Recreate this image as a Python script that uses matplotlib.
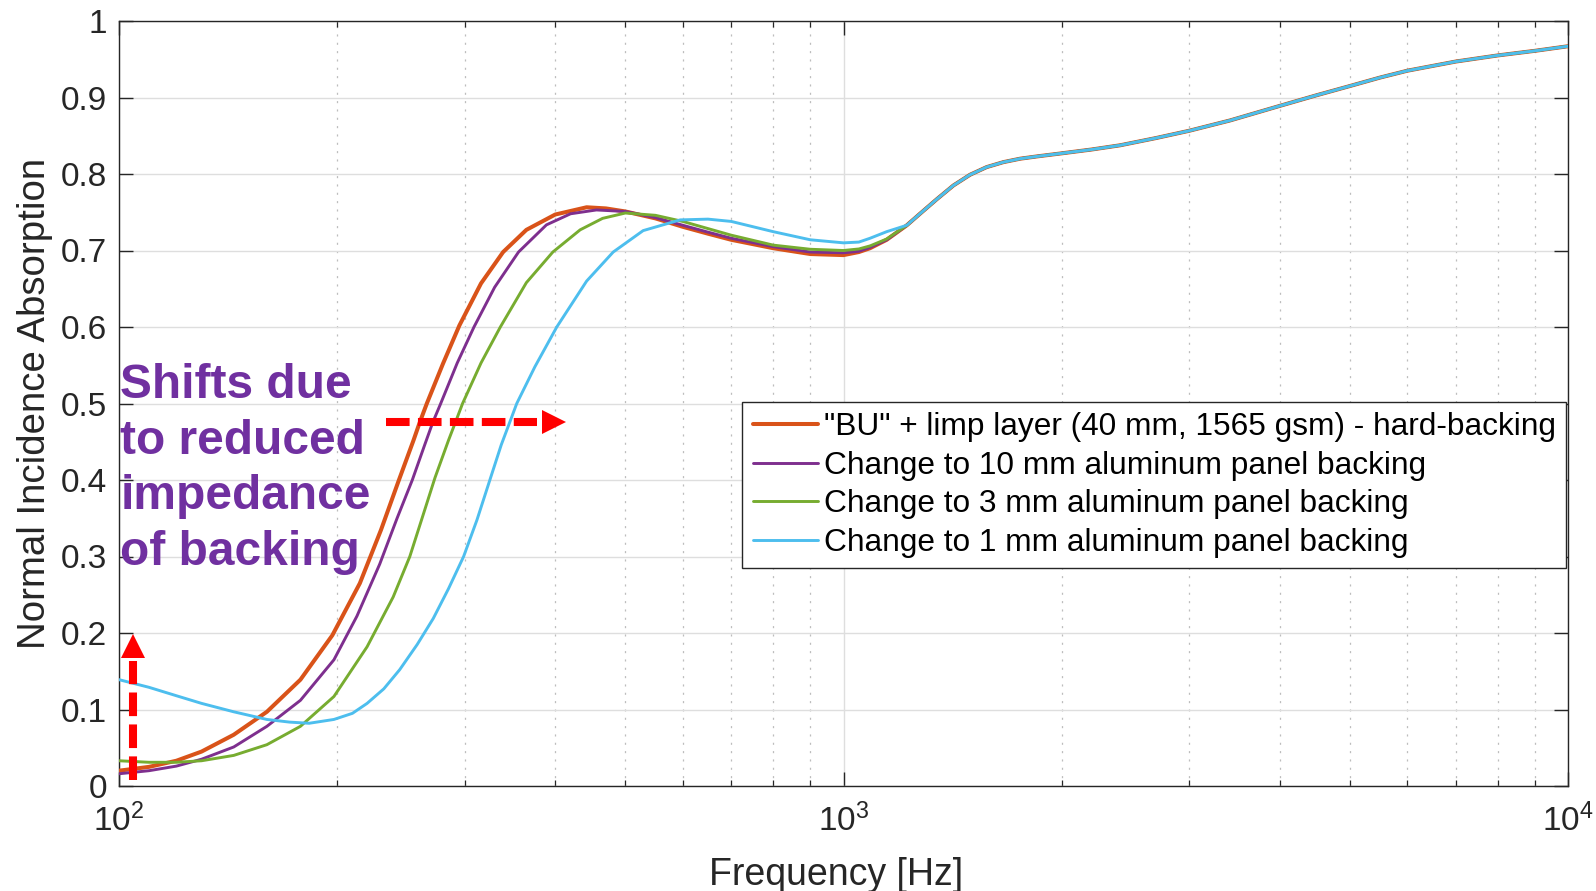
import numpy as np
import matplotlib
matplotlib.use("Agg")
import matplotlib.pyplot as plt
from matplotlib.ticker import FixedLocator, NullFormatter, FixedFormatter

plt.rcParams['font.family'] = ['Liberation Sans', 'DejaVu Sans']
plt.rcParams['mathtext.fontset'] = 'custom'
plt.rcParams['mathtext.rm'] = 'Liberation Sans'
plt.rcParams['mathtext.it'] = 'Liberation Sans:italic'
plt.rcParams['mathtext.bf'] = 'Liberation Sans:bold'
plt.rcParams['lines.scale_dashes'] = False

# ---------------- data ----------------
freq_hard = [100, 110, 120, 130, 144, 160, 178, 197, 215, 230, 243, 255, 260, 266, 280, 295,
             316, 339, 365, 400, 442, 470, 500, 550, 600, 650, 700, 800, 900, 1000, 1050,
             1088, 1147]
abs_hard = [0.020, 0.025, 0.033, 0.045, 0.067, 0.097, 0.139, 0.197, 0.265, 0.335, 0.398,
            0.452, 0.475, 0.500, 0.552, 0.602, 0.657, 0.698, 0.727, 0.747, 0.7565, 0.755,
            0.751, 0.742, 0.731, 0.722, 0.714, 0.703, 0.6954, 0.694, 0.698, 0.703, 0.714]

freq_10mm = [100, 110, 120, 130, 144, 160, 178, 198, 213, 229, 242, 254, 264, 271, 278, 293,
             309, 330, 356, 389, 420, 456, 500, 550, 600, 650, 700, 800, 900, 1000, 1050,
             1088, 1147]
abs_10mm = [0.016, 0.020, 0.026, 0.035, 0.051, 0.078, 0.112, 0.165, 0.222, 0.290, 0.350,
            0.400, 0.445, 0.475, 0.500, 0.553, 0.600, 0.652, 0.698, 0.7335, 0.748, 0.753,
            0.751, 0.743, 0.733, 0.724, 0.716, 0.705, 0.698, 0.697, 0.699, 0.704, 0.714]

freq_3mm = [100, 110, 120, 130, 144, 160, 178, 198, 220, 239, 252, 262, 273, 285, 292, 298,
            316, 336, 365, 397, 433, 465, 500, 550, 600, 700, 800, 900, 1000, 1050, 1088,
            1147]
abs_3mm = [0.033, 0.031, 0.031, 0.033, 0.040, 0.054, 0.078, 0.117, 0.182, 0.247, 0.300,
           0.350, 0.403, 0.452, 0.478, 0.500, 0.553, 0.600, 0.658, 0.698, 0.727, 0.742,
           0.749, 0.746, 0.738, 0.720, 0.707, 0.7016, 0.700, 0.702, 0.706, 0.715]

freq_1mm = [100, 110, 120, 130, 144, 160, 172, 183, 198, 210, 220, 232, 244, 258, 271.5, 285,
            299, 312, 325, 337, 347, 354, 375, 402, 442, 481, 529, 595, 650, 700, 800, 900,
            1000, 1050, 1088, 1147]
abs_1mm = [0.139, 0.129, 0.118, 0.108, 0.097, 0.087, 0.0835, 0.082, 0.087, 0.095, 0.108,
           0.127, 0.152, 0.185, 0.219, 0.258, 0.300, 0.348, 0.400, 0.446, 0.478, 0.500,
           0.548, 0.600, 0.660, 0.698, 0.726, 0.740, 0.741, 0.738, 0.7246, 0.714, 0.710,
           0.711, 0.716, 0.7246]

# common high-frequency part (all four curves coincide)
tail_freq = [1223, 1275, 1345, 1418, 1495, 1576, 1662, 1753, 1850, 2000, 2200, 2408, 2700,
             3000, 3416, 4000, 4500, 5000, 5500, 6000, 7000, 8000, 9000, 10000]
tail_abs = [0.733, 0.748, 0.767, 0.785, 0.799, 0.809, 0.8155, 0.820, 0.823, 0.827, 0.832,
            0.8375, 0.847, 0.8565, 0.870, 0.889, 0.903, 0.915, 0.926, 0.935, 0.947, 0.955,
            0.961, 0.967]

labels = ['"BU" + limp layer (40 mm, 1565 gsm) - hard-backing',
          'Change to 10 mm aluminum panel backing',
          'Change to 3 mm aluminum panel backing',
          'Change to 1 mm aluminum panel backing']
colors = ['#D95319', '#7E2F8E', '#77AC30', '#4DBEEE']
widths = [2.9, 2.1, 2.1, 2.1]

ytick_vals = [0, 0.1, 0.2, 0.3, 0.4, 0.5, 0.6, 0.7, 0.8, 0.9, 1.0]
ytick_labels = ['0', '0.1', '0.2', '0.3', '0.4', '0.5', '0.6', '0.7', '0.8', '0.9', '1']
xtick_vals = [100, 1000, 10000]
xtick_labels = ['$10^{2}$', '$10^{3}$', '$10^{4}$']

annotation_text = 'Shifts due\nto reduced\nimpedance\nof backing'

# ---------------- figure ----------------
W, H = 1596, 891
fig = plt.figure(figsize=(W / 100, H / 100), dpi=100, facecolor='white')
ax = fig.add_axes([119 / W, 1 - 786 / H, (1568 - 119) / W, (786 - 21) / H])

series = [(freq_hard, abs_hard), (freq_10mm, abs_10mm), (freq_3mm, abs_3mm), (freq_1mm, abs_1mm)]
for (f, a), lab, c, lw in zip(series, labels, colors, widths):
    ax.plot(list(f) + tail_freq, list(a) + tail_abs, color=c, lw=lw, label=lab,
            solid_capstyle='round', solid_joinstyle='round', zorder=3)

ax.set_xscale('log')
ax.set_xlim(100, 10000)
ax.set_ylim(0, 1)

ax.xaxis.set_major_locator(FixedLocator(xtick_vals))
ax.xaxis.set_major_formatter(FixedFormatter(xtick_labels))
minor = [m * 10 ** e for e in (2, 3) for m in range(2, 10)]
ax.xaxis.set_minor_locator(FixedLocator(minor))
ax.xaxis.set_minor_formatter(NullFormatter())
ax.yaxis.set_major_locator(FixedLocator(ytick_vals))
ax.yaxis.set_major_formatter(FixedFormatter(ytick_labels))

dark = '#262626'
ax.tick_params(axis='both', which='major', direction='in', length=10, width=1.0,
               color=dark, labelcolor=dark, labelsize=24, top=True, right=True)
ax.tick_params(axis='y', which='major', pad=8.6)
ax.tick_params(axis='x', which='major', pad=13)
ax.tick_params(axis='x', which='minor', direction='in', length=4.5, width=0.9,
               color=dark, top=True, bottom=True)
for s in ax.spines.values():
    s.set_color(dark)
    s.set_linewidth(1.0)

ax.grid(True, which='major', axis='both', color='#DEDEDE', lw=1.0, ls='-', zorder=0)
ax.grid(True, which='minor', axis='x', color='#BDBDBD', lw=0.9, ls=(0, (1.5, 4.5)), zorder=0)
ax.set_axisbelow(True)

ax.set_xlabel('Frequency [Hz]', fontsize=27, color=dark)
ax.set_ylabel('Normal Incidence Absorption', fontsize=27.6, color=dark)
ax.xaxis.set_label_coords(0.4947, -0.093)
ax.yaxis.set_label_coords(-0.0455, 0.5)

leg = ax.legend(loc='upper right', bbox_to_anchor=(0.9986, 0.502), borderaxespad=0,
                fontsize=22.8, frameon=True, fancybox=False, framealpha=1,
                edgecolor=dark, handlelength=2.05, handletextpad=0.2,
                labelspacing=0.27, borderpad=0.32)
leg.get_frame().set_linewidth(1.0)
leg.set_zorder(6)

# annotation text
ax.text(100.4, 0.5527, annotation_text, fontsize=34.5, fontweight='bold', color='#7030A0',
        ha='left', va='top', linespacing=1.30, zorder=7)

# red dashed arrows
red = '#FF0000'
dash = (0, (17.0, 6.0))
ax.plot([233.6, 378], [0.4754, 0.4754], color=red, lw=5.8, ls=dash,
        dash_capstyle='butt', zorder=8)
ax.plot([398.6], [0.4754], marker='>', ms=16.8, color=red, mew=0, zorder=8)
ax.plot([104.6, 104.6], [0.0078, 0.163], color=red, lw=5.8, ls=dash,
        dash_capstyle='butt', zorder=8)
ax.plot([104.6], [0.1826], marker='^', ms=16.8, color=red, mew=0, zorder=8)

fig.savefig('out.png', dpi=100, facecolor='white')
